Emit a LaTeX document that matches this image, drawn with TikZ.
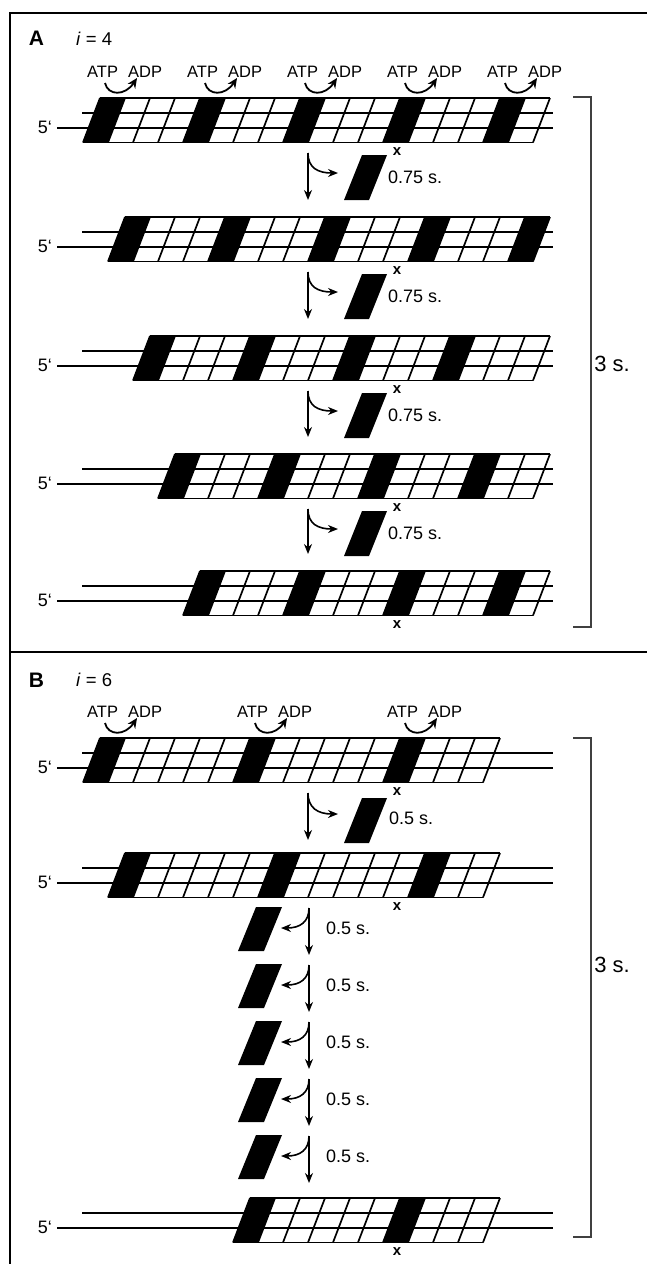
\documentclass[tikz,border=0pt]{standalone}
\usepackage{fontspec}
\setmainfont{Liberation Sans}
\usetikzlibrary{arrows.meta}

\tikzset{
  dna/.style={line width=1.8pt},
  gridline/.style={line width=1.7pt},
  frameline/.style={line width=2pt},
  brk/.style={line width=1.6pt, draw=black!75},
  tipline/.style={line width=1.6pt, -{Stealth[length=10pt,width=8pt]}},
  hydro/.style={line width=1.8pt, -{Stealth[length=10pt,width=9pt]}},
  txt/.style={inner sep=0pt, font=\fontsize{16.5}{19}\selectfont},
  five/.style={inner sep=0pt, font=\fontsize{18}{21}\selectfont, anchor=east},
  sec/.style={inner sep=0pt, font=\fontsize{18}{21}\selectfont, anchor=west},
  big/.style={inner sep=0pt, font=\fontsize{22}{25}\selectfont},
  xmk/.style={inner sep=0pt, font=\bfseries\fontsize{15}{17}\selectfont},
  panel/.style={inner sep=0pt, font=\bfseries\fontsize{21}{24}\selectfont},
  idx/.style={inner sep=0pt, anchor=west, font=\fontsize{18.5}{21}\selectfont},
}

% filament: top y, left x, number of subunits, hydrolysis period, name
\newcommand\filament[5]{%
  \pgfmathsetmacro\ft{#1}%
  \draw[dna] (82,\ft+14.8) -- (553,\ft+14.8);
  \draw[dna] (57,\ft+30.2) -- (553,\ft+30.2);
  \node[five] (#5-end) at (52,\ft+29.7) {5‘};
  \pgfmathtruncatemacro\flast{#3-1}%
  \foreach \i in {0,...,\flast}{%
    \pgfmathtruncatemacro\fr{mod(\i,#4)}%
    \ifnum\fr=0
      \fill (#2+25*\i,\ft) -- ++(25,0) -- ++(-17,44.5) -- ++(-25,0) -- cycle;
    \fi
  }
  \draw[gridline] (#2,\ft) -- (#2+25*#3,\ft)
                  (#2-17,\ft+44.5) -- (#2+25*#3-17,\ft+44.5);
  \foreach \i in {0,...,#3}{\draw[gridline] (#2+25*\i,\ft) -- ++(-17,44.5);}
  \node[xmk] (#5-x) at (397,\ft+53.5) {x};
}

% ATP hydrolysis label above a subunit: subunit x, filament top y, name
\newcommand\hydrolysis[3]{%
  \node[txt, anchor=south west] (#3-atp) at (#1-13,#2-20) {ATP};
  \node[txt, anchor=south west] (#3-adp) at (#1+28,#2-20) {ADP};
  \draw[hydro] (#1+5,#2-15) .. controls (#1+8,#2-2) and (#1+25,#2-2) .. (#1+37,#2-20);
}

% released subunit: top-left x, top y, width, height
\newcommand\subunit[4]{%
  \fill (#1,#2) -- ++(#3,0) -- ++(-18,#4) -- ++(-#3,0) -- cycle;
}

\begin{document}
\begin{tikzpicture}[x=1pt,y=-1pt]
  \useasboundingbox (0,0) rectangle (646,1264);
  \draw[frameline] (10,13) rectangle (650,1270);
  \draw[frameline] (10,652) -- (650,652);

  % ---------------- panel A ----------------
  \node[panel] (labA) at (36.5,38.5) {A};
  \node[idx] (iA) at (76,38.5) {\textit{i} = 4};

  \foreach \x [count=\k] in {100,200,300,400,500}{\hydrolysis{\x}{98}{hA\k}}

  \filament{98}{100}{18}{4}{A1}
  \filament{217}{125}{17}{4}{A2}
  \filament{336}{150}{16}{4}{A3}
  \filament{454}{175}{15}{4}{A4}
  \filament{571}{200}{14}{4}{A5}

  \foreach \t/\n [count=\k] in {98/217,217/336,336/454,454/571}{
    \coordinate (rA\k) at (308,\t+55);
    \coordinate (dA\k) at (308,\n-17);
    \coordinate (cA\k) at (338,\t+75);
    \draw[tipline] (rA\k) -- (dA\k);
    \draw[tipline] (rA\k) .. controls (308,\t+70) and (318,\t+75) .. (cA\k);
    \subunit{362}{\t+57}{25}{45}
    \node[sec] (tA\k) at (388,\t+79) {0.75 s.};
  }

  \draw[brk] (573,97) -- (591,97) -- (591,627) -- (573,627);
  \node[big] (durA) at (612,364) {3 s.};

  % ---------------- panel B ----------------
  \node[panel] (labB) at (36.5,680) {B};
  \node[idx] (iB) at (76,680) {\textit{i} = 6};

  \foreach \x [count=\k] in {100,250,400}{\hydrolysis{\x}{738}{hB\k}}

  \filament{738}{100}{16}{6}{B1}
  \filament{853}{125}{15}{6}{B2}
  \filament{1198}{250}{10}{6}{B3}

  % first release, to the right
  \coordinate (rB0) at (308,793);
  \coordinate (dB0) at (308,840);
  \coordinate (cB0) at (338,814);
  \draw[tipline] (rB0) -- (dB0);
  \draw[tipline] (rB0) .. controls (308,808) and (318,814) .. (cB0);
  \subunit{362}{798}{25}{45}
  \node[sec] (tB0) at (389,818) {0.5 s.};

  % five further releases, to the left
  \foreach \k in {1,...,5}{
    \pgfmathsetmacro\yy{908+57*(\k-1)}
    \coordinate (rB\k) at (309,\yy);
    \coordinate (dB\k) at (309,\yy+47);
    \coordinate (cB\k) at (281,\yy+20);
    \draw[tipline] (rB\k) -- (dB\k);
    \draw[tipline] (rB\k) .. controls (309,\yy+14) and (300,\yy+20) .. (cB\k);
    \subunit{256}{\yy-1}{26}{44}
    \node[sec] (tB\k) at (326,\yy+20) {0.5 s.};
  }

  \draw[brk] (573,738) -- (591,738) -- (591,1237) -- (573,1237);
  \node[big] (durB) at (612,965) {3 s.};
\end{tikzpicture}
\end{document}
